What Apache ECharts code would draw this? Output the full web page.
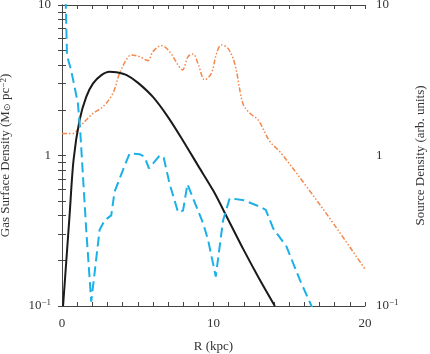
<!DOCTYPE html>
<html>
<head>
<meta charset="utf-8">
<script src="https://cdn.jsdelivr.net/npm/echarts@6/dist/echarts.min.js"></script>
<style>
  html, body { margin: 0; padding: 0; background: #fff; }
  #chart { width: 430px; height: 354px; }
</style>
</head>
<body>
<div id="chart"></div>
<script>
// gas surface density (dashed blue, left axis)
var gasR   = [0.24, 0.33, 0.6, 1.05, 1.2, 1.6, 1.93, 2.48, 2.81, 3.25, 3.47, 4.02, 4.46, 5.12, 5.45, 5.74, 6.45, 6.71, 7.1, 7.66, 7.99, 8.28, 8.65, 9.31, 9.64, 10.15, 10.63, 11.07, 12.0, 13.06, 13.45, 13.94, 14.82, 15.7, 16.47, 16.8];
var gasSig = [11, 4.6, 3.7, 2.22, 1.47, 0.32, 0.107, 0.32, 0.37, 0.40, 0.575, 0.8, 1.03, 1.02, 0.98, 0.82, 1.0, 0.97, 0.65, 0.42, 0.43, 0.645, 0.52, 0.355, 0.275, 0.157, 0.37, 0.52, 0.505, 0.457, 0.435, 0.328, 0.248, 0.149, 0.1, 0.085];

// model curve (solid black, left axis)
var modelR   = [0.07, 0.3, 0.5, 0.76, 1.16, 1.6, 2.04, 2.6, 3.14, 3.6, 4.24, 5.0, 6.0, 7.0, 8.0, 9.0, 10.0, 11.0, 12.0, 13.0, 14.05];
var modelSig = [0.1, 0.21, 0.40, 0.93, 1.72, 2.45, 3.0, 3.42, 3.6, 3.58, 3.43, 3.05, 2.45, 1.8, 1.25, 0.85, 0.58, 0.37, 0.235, 0.153, 0.1];

// source density (dash-dot orange, right axis)
var srcR   = [0, 0.5, 0.83, 1.16, 2.04, 2.7, 3.36, 3.8, 4.24, 4.57, 5.12, 5.67, 6.0, 6.56, 7.1, 7.66, 7.95, 8.32, 8.65, 8.98, 9.42, 9.86, 10.2, 10.52, 10.96, 11.4, 11.95, 12.4, 12.95, 13.72, 14.38, 16.15, 17.9, 20];
var srcDen = [1.40, 1.40, 1.41, 1.55, 1.9, 2.11, 2.59, 3.52, 4.31, 4.66, 4.54, 4.27, 4.9, 5.37, 4.9, 4.0, 3.7, 4.54, 4.72, 4.08, 3.18, 3.52, 4.77, 5.42, 5.15, 4.08, 2.2, 1.91, 1.72, 1.24, 1.06, 0.62, 0.355, 0.176];

var yTicks  = [0.1, 0.2, 0.3, 0.4, 0.5, 0.6, 0.7, 0.8, 0.9, 1, 2, 3, 4, 5, 6, 7, 8, 9, 10];
var yLabels = [0.1, 1, 10];

function pairs(xs, ys) {
  return xs.map(function (x, i) { return [x, ys[i]]; });
}

var font = 'Liberation Serif';
var axisColor = '#444';

function logLabel(v) {
  if (v < 0.5) return '{b|10}{s|\u22121}';
  if (v < 5) return '{b|1}';
  return '{b|10}';
}
var labelRich = {
  b: { fontFamily: font, fontSize: 13, color: '#333', lineHeight: 16 },
  s: { fontFamily: font, fontSize: 9, color: '#333', verticalAlign: 'top', lineHeight: 10 }
};

function yAxisDef(pos, name) {
  return {
    type: 'log', logBase: 10, min: 0.1, max: 10, position: pos,
    name: name, nameLocation: 'middle', nameGap: pos === 'left' ? 50 : 49, nameRotate: 90,
    nameTextStyle: {
      fontFamily: font, fontSize: 13, color: '#333',
      rich: {
        n: { fontFamily: font, fontSize: 13, color: '#333' },
        sub: { fontFamily: font, fontSize: 9, color: '#333', verticalAlign: 'bottom' },
        sup: { fontFamily: font, fontSize: 9, color: '#333', verticalAlign: 'top' }
      }
    },
    axisLine: { show: true, lineStyle: { color: axisColor, width: 1 } },
    axisTick: { show: true, inside: false, length: -4, customValues: yTicks, lineStyle: { color: axisColor } },
    axisLabel: { show: true, margin: 11, customValues: yLabels, formatter: logLabel, rich: labelRich },
    splitLine: { show: false }
  };
}

var chart = echarts.init(document.getElementById('chart'));
chart.setOption({
  animation: false,
  backgroundColor: '#fff',
  grid: { left: 62, right: 65, top: 5, bottom: 48, containLabel: false, outerBoundsMode: 'none' },
  xAxis: [
    {
      type: 'value', min: 0, max: 20, interval: 10, position: 'bottom',
      name: 'R (kpc)', nameLocation: 'middle', nameGap: 34,
      nameTextStyle: { fontFamily: font, fontSize: 13, color: '#333' },
      axisLine: { show: true, onZero: false, lineStyle: { color: axisColor, width: 1 } },
      axisTick: { show: true, inside: true, length: 4, lineStyle: { color: axisColor } },
      minorTick: { show: true, splitNumber: 10, length: 4, lineStyle: { color: axisColor } },
      axisLabel: { fontFamily: font, fontSize: 13, color: '#333', margin: 11 },
      splitLine: { show: false }
    },
    {
      type: 'value', min: 0, max: 20, interval: 10, position: 'top',
      axisLine: { show: true, onZero: false, lineStyle: { color: axisColor, width: 1 } },
      axisTick: { show: true, inside: true, length: 4, lineStyle: { color: axisColor } },
      minorTick: { show: true, splitNumber: 10, length: 4, lineStyle: { color: axisColor } },
      axisLabel: { show: false },
      splitLine: { show: false }
    }
  ],
  yAxis: [
    yAxisDef('left', '{n|Gas Surface Density (M}{sub|\u2299}{n| pc}{sup|\u22122}{n|)}'),
    yAxisDef('right', 'Source Density (arb. units)')
  ],
  series: [
    {
      type: 'line', xAxisIndex: 0, yAxisIndex: 1, data: pairs(srcR, srcDen),
      smooth: 0.35, showSymbol: false, clip: true,
      lineStyle: { color: '#f5874a', width: 1.5, type: [5, 2, 1.5, 2, 1.5, 2] }
    },
    {
      type: 'line', xAxisIndex: 0, yAxisIndex: 0, data: pairs(modelR, modelSig),
      smooth: 0.3, showSymbol: false, clip: true,
      lineStyle: { color: '#1a1a1a', width: 2, type: 'solid' }
    },
    {
      type: 'line', xAxisIndex: 0, yAxisIndex: 0, data: pairs(gasR, gasSig),
      smooth: false, showSymbol: false, clip: true,
      lineStyle: { color: '#1bb0e8', width: 2, type: [10, 5] }
    }
  ]
});
</script>
</body>
</html>
